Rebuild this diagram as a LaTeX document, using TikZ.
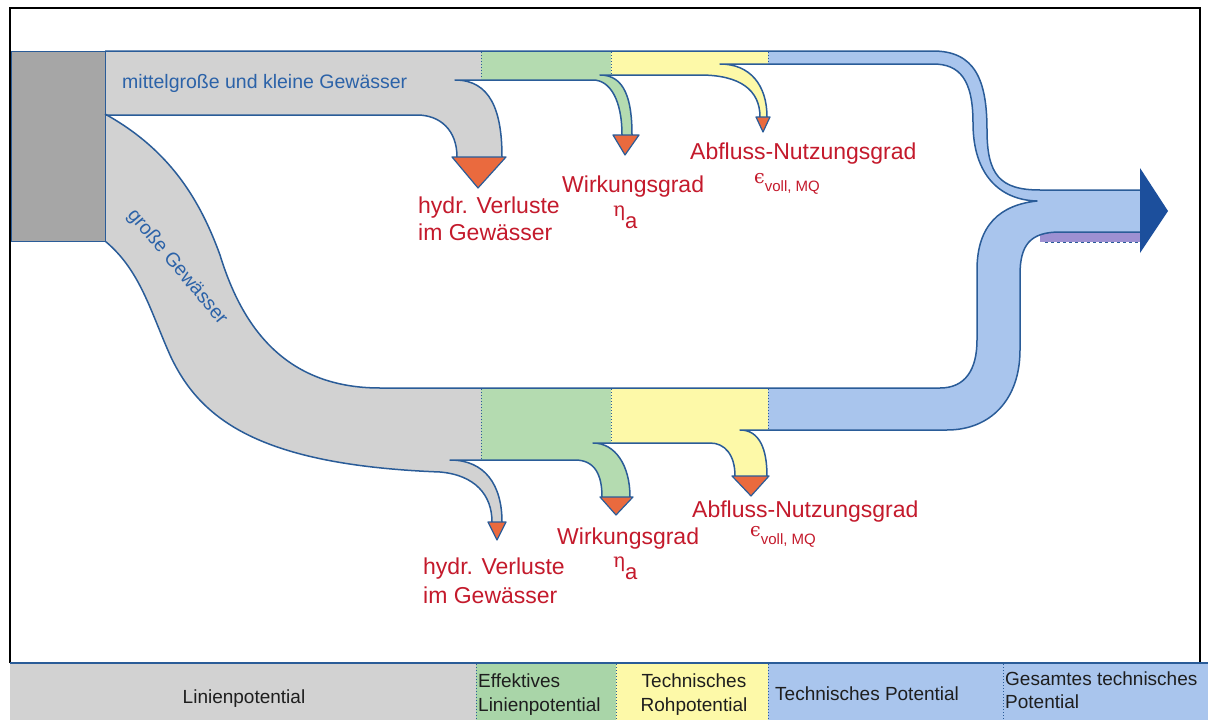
\documentclass[tikz,border=0pt]{standalone}
\usepackage{fontspec}
\setmainfont{Liberation Sans}
\newfontfamily\greekfont{DejaVu Serif}
\definecolor{edgeblue}{HTML}{2A5C98}
\definecolor{boxgrey}{HTML}{A6A6A6}
\definecolor{flowgrey}{HTML}{D2D2D2}
\definecolor{flowgreen}{HTML}{B4DBB0}
\definecolor{flowyellow}{HTML}{FDF9A8}
\definecolor{flowblue}{HTML}{A9C5ED}
\definecolor{headblue}{HTML}{1C4F9C}
\definecolor{stripviolet}{HTML}{9D90D2}
\definecolor{triorange}{HTML}{EA6A3E}
\definecolor{labred}{HTML}{C41A2C}
\definecolor{labblue}{HTML}{2B62A8}
\definecolor{bandgreen}{HTML}{A9D5A8}
\definecolor{bandtext}{HTML}{1E1E1E}
\tikzset{
  edge/.style={draw=edgeblue, line width=1.5pt, line join=round},
  sep/.style={draw=edgeblue, line width=1pt, dotted},
  tri/.style={fill=triorange, draw=edgeblue, line width=1.2pt, line join=round},
  lbl/.style={text=labred, inner sep=0pt, font=\fontsize{23}{26}\selectfont},
  bandtxt/.style={text=bandtext, inner sep=0pt, font=\fontsize{19}{22}\selectfont},
  flowtxt/.style={text=labblue, inner sep=0pt, font=\fontsize{19.5}{22}\selectfont},
}
\newcommand{\etaA}{{\greekfont\fontsize{20}{22}\selectfont η}\raisebox{-12pt}{\fontsize{22}{24}\selectfont a}}
\newcommand{\epsVoll}{{\greekfont\fontsize{19}{22}\selectfont ϵ}\raisebox{-8pt}{\fontsize{15}{18}\selectfont voll, MQ}}
\begin{document}
\begin{tikzpicture}[x=1pt,y=-1pt]
\useasboundingbox (0,0) rectangle (1208,720);
\fill[white] (0,0) rectangle (1208,720);

% ---------- fills ----------
\fill[stripviolet] (1040,232) rectangle (1140,242);
% blue (top stream end, merge, output, lower stream end)
\fill[flowblue] (768,51) -- (933,51) .. controls (975,51) and (987,80) .. (987,130)
  .. controls (987,175) and (1000,190) .. (1040,190) -- (1140,190) -- (1140,232) -- (1060,232)
  .. controls (1030,232) and (1020,245) .. (1020,275) -- (1020,350)
  .. controls (1020,400) and (990,430) .. (947,430) -- (768,430) -- (768,388) -- (940,388)
  .. controls (965,388) and (977,370) .. (977,340) -- (977,270)
  .. controls (977,225) and (1000,205) .. (1037,201)
  .. controls (1000,200) and (973,175) .. (973,123)
  .. controls (973,80) and (960,64) .. (933,64) -- (768,64) -- cycle;
% top grey
\fill[flowgrey] (105,51) -- (481,51) -- (481,80) -- (455,80) .. controls (490,80) and (502,110) .. (502,157)
  -- (457,157) .. controls (457,130) and (440,115) .. (417,115) -- (105,115) -- cycle;
% top green
\fill[flowgreen] (481,51) -- (611,51) -- (611,75) -- (600,75) .. controls (625,75) and (632,100) .. (632,135)
  -- (622,135) .. controls (622,100) and (610,80) .. (593,80) -- (481,80) -- cycle;
% top yellow
\fill[flowyellow] (611,51) -- (768,51) -- (768,64) -- (720,64) .. controls (750,64) and (767,85) .. (767,117)
  -- (760,117) .. controls (760,90) and (740,75) .. (700,75) -- (611,75) -- cycle;
% lower grey
\fill[flowgrey] (105,114) .. controls (170,150) and (200,200) .. (220,255)
  .. controls (240,320) and (280,388) .. (380,388) -- (481,388) -- (481,460) -- (450,460)
  .. controls (485,460) and (502,485) .. (502,522) -- (492,522)
  .. controls (492,495) and (475,475) .. (440,472)
  .. controls (260,465) and (200,420) .. (170,355)
  .. controls (150,310) and (140,270) .. (105,241) -- cycle;
% lower green
\fill[flowgreen] (481,388) -- (611,388) -- (611,443) -- (593,443) .. controls (615,443) and (630,465) .. (630,497)
  -- (602,497) .. controls (602,475) and (595,460) .. (575,460) -- (481,460) -- cycle;
% lower yellow
\fill[flowyellow] (611,388) -- (768,388) -- (768,430) -- (740,430) .. controls (760,430) and (767,450) .. (767,476)
  -- (735,476) .. controls (735,455) and (725,443) .. (710,443) -- (611,443) -- cycle;
% source box
\filldraw[fill=boxgrey, draw=edgeblue, line width=1pt] (11,51) rectangle (105,241);

% ---------- outlines ----------
\draw[edge] (105,51) -- (933,51) .. controls (975,51) and (987,80) .. (987,130)
  .. controls (987,175) and (1000,190) .. (1040,190) -- (1140,190);
\draw[edge] (105,115) -- (417,115) .. controls (440,115) and (457,130) .. (457,157);
\draw[edge] (502,157) .. controls (502,110) and (490,80) .. (455,80) -- (593,80)
  .. controls (610,80) and (622,100) .. (622,135);
\draw[edge] (632,135) .. controls (632,100) and (625,75) .. (600,75) -- (700,75)
  .. controls (740,75) and (760,90) .. (760,117);
\draw[edge] (767,117) .. controls (767,85) and (750,64) .. (720,64) -- (933,64)
  .. controls (960,64) and (973,80) .. (973,123)
  .. controls (973,175) and (1000,200) .. (1037,201)
  .. controls (1000,205) and (977,225) .. (977,270) -- (977,340)
  .. controls (977,370) and (965,388) .. (940,388) -- (380,388)
  .. controls (280,388) and (240,320) .. (220,255)
  .. controls (200,200) and (170,150) .. (105,114);
\draw[edge] (1140,232) -- (1060,232) .. controls (1030,232) and (1020,245) .. (1020,275) -- (1020,350)
  .. controls (1020,400) and (990,430) .. (947,430) -- (740,430)
  .. controls (760,430) and (767,450) .. (767,476);
\draw[edge] (735,476) .. controls (735,455) and (725,443) .. (710,443) -- (593,443)
  .. controls (615,443) and (630,465) .. (630,497);
\draw[edge] (602,497) .. controls (602,475) and (595,460) .. (575,460) -- (450,460)
  .. controls (485,460) and (502,485) .. (502,522);
\draw[edge] (492,522) .. controls (492,495) and (475,475) .. (440,472)
  .. controls (260,465) and (200,420) .. (170,355)
  .. controls (150,310) and (140,270) .. (105,241);
\draw[draw=edgeblue, line width=1pt, dashed] (1045,242) -- (1140,242);

% separators
\draw[sep] (481,52) -- (481,79);
\draw[sep] (611,52) -- (611,74);
\draw[sep] (768,52) -- (768,63);
\draw[sep] (481,389) -- (481,459);
\draw[sep] (611,389) -- (611,442);
\draw[sep] (768,389) -- (768,429);

% loss triangles
\draw[tri] (452,157) -- (506,157) -- (478,188) -- cycle;
\draw[tri] (613,135) -- (639,135) -- (625,155) -- cycle;
\draw[tri] (756,117) -- (770,117) -- (763,132) -- cycle;
\draw[tri] (488,522) -- (506,522) -- (497,540) -- cycle;
\draw[tri] (600,497) -- (633,497) -- (616,515) -- cycle;
\draw[tri] (732,476) -- (769,476) -- (751,496) -- cycle;
% output arrow head
\fill[headblue] (1140,168) -- (1168,211) -- (1140,253) -- cycle;

% ---------- flow labels ----------
\node[flowtxt, anchor=base west] (tmk) at (122,88) {mittelgroße und kleine Gewässer};
\node[flowtxt, rotate=-50] (tgg) at (177,267) {große Gewässer};

% top loss labels
\node[lbl, anchor=base west] (th1) at (418,213) {hydr. Verluste};
\node[lbl, anchor=base west] (th2) at (418,240) {im Gewässer};
\node[lbl, anchor=base west] (tw) at (562,192) {Wirkungsgrad};
\node[lbl, anchor=base west] (teta) at (613,216) {\etaA};
\node[lbl, anchor=base west] (ta) at (690,159) {Abfluss-Nutzungsgrad};
\node[lbl, anchor=base west] (teps) at (754,183) {\epsVoll};

% bottom loss labels
\node[lbl, anchor=base west] (bh1) at (423,574) {hydr. Verluste};
\node[lbl, anchor=base west] (bh2) at (423,603) {im Gewässer};
\node[lbl, anchor=base west] (bw) at (557,544) {Wirkungsgrad};
\node[lbl, anchor=base west] (beta) at (613,567) {\etaA};
\node[lbl, anchor=base west] (ba) at (692,517) {Abfluss-Nutzungsgrad};
\node[lbl, anchor=base west] (beps) at (750,536) {\epsVoll};

% ---------- frame ----------
\draw[black, line width=1.2pt] (10,663) -- (10,8) -- (1200,8) -- (1200,663);

% ---------- bottom band ----------
\fill[flowgrey] (10,663) rectangle (476,720);
\fill[bandgreen] (476,663) rectangle (616,720);
\fill[flowyellow] (616,663) rectangle (768,720);
\fill[flowblue] (768,663) rectangle (1208,720);
\draw[draw=edgeblue, line width=2pt] (10,663) -- (1208,663);
\draw[sep] (476,664) -- (476,720);
\draw[sep] (616,664) -- (616,720);
\draw[sep] (768,664) -- (768,720);
\draw[sep] (1003,664) -- (1003,720);

\node[bandtxt, anchor=base] (b1) at (244,703) {Linienpotential};
\node[bandtxt, anchor=base west] (b2a) at (478,687) {Effektives};
\node[bandtxt, anchor=base west] (b2b) at (478,711) {Linienpotential};
\node[bandtxt, anchor=base] (b3a) at (694,687) {Technisches};
\node[bandtxt, anchor=base] (b3b) at (694,711) {Rohpotential};
\node[bandtxt, anchor=base west] (b4) at (775,700) {Technisches Potential};
\node[bandtxt, anchor=base west] (b5a) at (1005,685) {Gesamtes technisches};
\node[bandtxt, anchor=base west] (b5b) at (1005,708) {Potential};
\end{tikzpicture}
\end{document}
